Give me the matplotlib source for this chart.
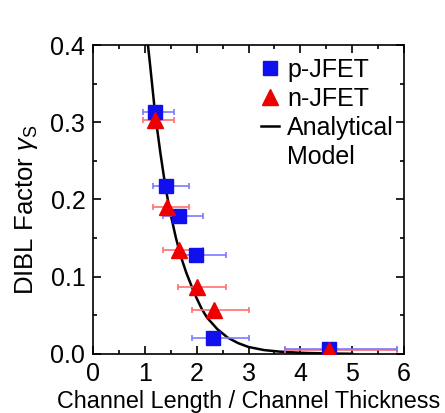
import numpy as np
import matplotlib.pyplot as plt
from matplotlib.ticker import MultipleLocator, FormatStrFormatter

plt.rcParams['font.family'] = ['Liberation Sans', 'DejaVu Sans']
plt.rcParams['mathtext.fontset'] = 'custom'
plt.rcParams['mathtext.rm'] = 'Liberation Sans'
plt.rcParams['mathtext.it'] = 'Liberation Sans:italic'

# p-JFET data (x, y, x error range)
p_x = [1.20, 1.41, 1.66, 1.99, 2.32, 4.56]
p_y = [0.313, 0.218, 0.179, 0.128, 0.021, 0.006]
p_xlo = [0.965, 1.16, 1.35, 1.64, 1.91, 3.71]
p_xhi = [1.56, 1.85, 2.12, 2.57, 3.01, 5.87]

# n-JFET data
n_x = [1.20, 1.43, 1.66, 2.00, 2.34, 4.56]
n_y = [0.303, 0.19, 0.135, 0.087, 0.057, 0.005]
n_xlo = [0.965, 1.16, 1.35, 1.64, 1.91, 3.71]
n_xhi = [1.56, 1.85, 2.12, 2.57, 3.01, 5.87]

# analytical model
m_x = [1.06, 1.1, 1.2, 1.3, 1.4, 1.5, 1.6, 1.7, 1.8, 1.9, 2.0, 2.1, 2.2, 2.4,
       2.6, 2.8, 3.0, 3.3, 3.6, 4.0, 4.5, 5.0]
m_y = [0.40, 0.375, 0.31, 0.26, 0.215, 0.18, 0.15, 0.125, 0.105, 0.088, 0.072,
       0.058, 0.047, 0.032, 0.021, 0.014, 0.009, 0.005, 0.003, 0.0015, 0.0006, 0.0002]

fig = plt.figure(figsize=(4.45, 4.13), dpi=100)
ax = fig.add_axes([0.209, 0.143, 0.699, 0.748])

line, = ax.plot(m_x, m_y, color='black', lw=1.8, zorder=2)

p_err = [np.array(p_x) - np.array(p_xlo), np.array(p_xhi) - np.array(p_x)]
n_err = [np.array(n_x) - np.array(n_xlo), np.array(n_xhi) - np.array(n_x)]

ax.errorbar(n_x, n_y, xerr=n_err, fmt='none', ecolor='#ff7070', elinewidth=1.2,
            capsize=2.5, capthick=1.2, zorder=3)
ax.errorbar(p_x, p_y, xerr=p_err, fmt='none', ecolor='#7a7aff', elinewidth=1.2,
            capsize=2.5, capthick=1.2, zorder=3)
sq, = ax.plot(p_x, p_y, 's', color='#1010ee', ms=9.5, ls='none', zorder=4)
tri, = ax.plot(n_x, n_y, '^', color='#ee0000', ms=11, ls='none', zorder=5)
blank, = ax.plot([], [], color='none')

ax.set_xlim(0, 6)
ax.set_ylim(0, 0.4)
ax.xaxis.set_major_locator(MultipleLocator(1))
ax.xaxis.set_minor_locator(MultipleLocator(0.5))
ax.yaxis.set_major_locator(MultipleLocator(0.1))
ax.yaxis.set_minor_locator(MultipleLocator(0.05))
ax.yaxis.set_major_formatter(FormatStrFormatter('%.1f'))
ax.tick_params(which='both', direction='in', top=True, right=True, labelsize=18)
ax.tick_params(which='major', length=6, width=1.2)
ax.tick_params(which='minor', length=3, width=1.2)
ax.tick_params(axis='x', which='major', pad=5.5)
ax.tick_params(axis='y', which='major', pad=5.5)
for s in ax.spines.values():
    s.set_linewidth(1.2)

ax.set_xlabel('Channel Length / Channel Thickness', fontsize=16.8, labelpad=3)
ax.set_ylabel(r'DIBL Factor $\gamma_{\mathrm{S}}$', fontsize=18.5)
ax.yaxis.set_label_coords(-0.17, 0.466)

ax.legend([sq, tri, line, blank], ['p-JFET', 'n-JFET', 'Analytical', 'Model'],
          loc='upper right', bbox_to_anchor=(0.968, 0.958), frameon=False,
          fontsize=18, handlelength=0.7, handletextpad=0.35, labelspacing=0.2,
          borderaxespad=0, borderpad=0)

fig.savefig('out.png', dpi=100)
